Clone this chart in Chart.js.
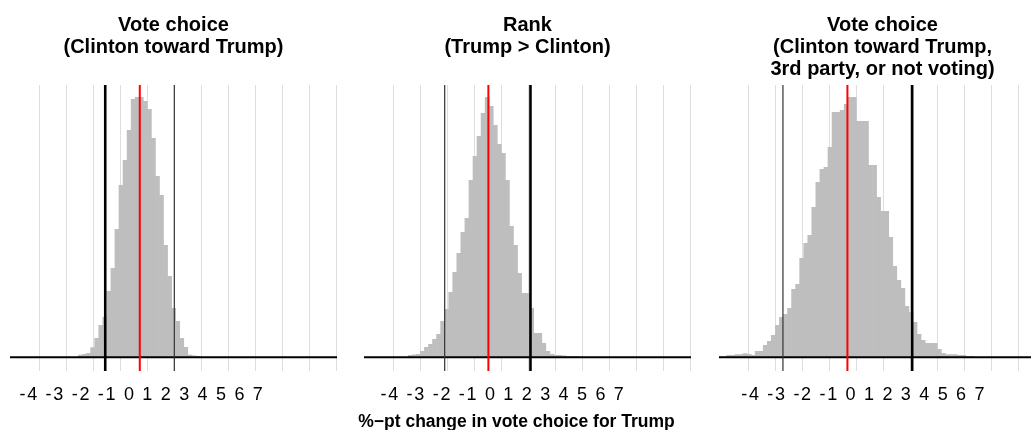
<!DOCTYPE html>
<html lang="en">

<head>
    <meta charset="UTF-8">
    <title>Simulated change in vote choice for Trump</title>

    <!-- Chart.js from CDN -->
    <script src="https://cdn.jsdelivr.net/npm/chart.js"></script>

    <style>
        html, body {
            margin: 0;
            padding: 0;
            background: #ffffff;
            overflow: hidden;
        }

        .figure {
            position: relative;
            width: 1031px;
            height: 430px;
            overflow: hidden;
        }

        /* one canvas per facet */
        .panel {
            position: absolute;
            top: 0;
        }

        /* shared x axis title under the three facets */
        .x-title {
            position: absolute;
            left: 0;
            width: 1033px;
            top: 413px;
            text-align: center;
            font: bold 17.5px "Liberation Sans", Arial, sans-serif;
            line-height: 17.5px;
            color: #000000;
            white-space: nowrap;
        }
    </style>
</head>

<body>

<div class="figure">
    <canvas id="panel1" class="panel" width="355" height="430" style="left:0px"></canvas>
    <canvas id="panel2" class="panel" width="355" height="430" style="left:354px"></canvas>
    <canvas id="panel3" class="panel" width="355" height="430" style="left:709px"></canvas>
    <div class="x-title">%&minus;pt change in vote choice for Trump</div>
</div>

<script>
    // x axis: grid positions and the (shifted) label row printed under each facet
    const xTicks = [-4, -3, -2, -1, 0, 1, 2, 3, 4, 5, 6, 7];
    const tickLabels = ['-4', '-3', '-2', '-1', '0', '1', '2', '3', '4', '5', '6', '7'];
    const xMin = -5.09;
    const xMax = 7.03;

    // histogram bins
    const binWidth = 0.15;

    // panel 1: Vote choice (Clinton toward Trump)
    const binStart1 = -2.55;
    const counts1 = [2.3, 3, 4, 9.7, 19, 32, 40, 66, 89, 128, 172, 197, 227, 258, 260,
        260, 256, 248, 219, 181, 162, 112, 81, 49, 36, 19, 10, 2.3, 1.5, 1];

    // panel 2: Rank (Trump > Clinton)
    const binStart2 = -3.45;
    const counts2 = [2, 2.5, 3, 6, 10, 13, 18, 23, 36, 48, 65, 85, 104, 125, 139, 177,
        201, 221, 244, 260, 251, 232, 213, 204, 177, 131, 112, 84, 64, 64, 49, 24, 24,
        14, 6, 3, 2, 2, 1.5, 1, 1, 1, 0.5];

    // panel 3: Vote choice (Clinton toward Trump, 3rd party, or not voting)
    const binStart3 = -5.1;
    const counts3 = [0.7, 0.7, 2, 2, 2.7, 2.7, 3.7, 3, 2, 6, 6, 12, 16, 22, 32, 40, 43,
        49, 68, 73, 99, 114, 122, 150, 175, 188, 190, 210, 245, 245, 247, 253, 260, 260,
        236, 236, 236, 192, 192, 160, 146, 146, 120, 91, 77, 69, 51, 45, 35, 23, 17, 14,
        14, 14, 8, 4, 2.7, 2.7, 2.7, 2, 2, 1, 1];

    // reference lines, one entry per panel
    const redLine = [-0.28, -0.48, -0.33];
    const blackThick = [-1.56, 1.08, 2.07];
    const blackThin = [1.0, -2.10, -2.72];

    const panelTitles = [
        ['Vote choice', '(Clinton toward Trump)', ''],
        ['Rank', '(Trump > Clinton)', ''],
        ['Vote choice', '(Clinton toward Trump,', '3rd party, or not voting)']
    ];

    // y range (counts), a little below zero so the grid runs under the axis line
    const yMin = -13.7;
    const yMax = 272.3;

    const FONT = '"Liberation Sans", Arial, sans-serif';

    // draws the row of tick numbers under a facet
    const tickTextPlugin = {
        id: 'tickText',
        afterDraw(chart, args, opts) {
            const ctx = chart.ctx;
            ctx.save();
            ctx.font = '18px ' + FONT;
            ctx.letterSpacing = '1.7px';
            ctx.fillStyle = '#000000';
            ctx.textBaseline = 'alphabetic';
            ctx.fillText(tickLabels.join(' '), chart.chartArea.left + opts.shift, 400);
            ctx.restore();
        }
    };

    function histogramPoints(start, counts) {
        return counts.map((c, i) => ({x: start + (i + 0.5) * binWidth, y: c}));
    }

    function verticalLine(v) {
        return [{x: v, y: yMin}, {x: v, y: yMax}];
    }

    function lineSet(data, color, width, order) {
        return {
            type: 'line',
            data: data,
            borderColor: color,
            borderWidth: width,
            pointRadius: 0,
            fill: false,
            order: order
        };
    }

    function makePanel(id, idx, start, counts, labelShift) {
        new Chart(document.getElementById(id), {
            type: 'bar',
            data: {
                datasets: [
                    lineSet(verticalLine(redLine[idx]), '#ff0000', 2, 0),
                    lineSet(verticalLine(blackThick[idx]), '#000000', 2.6, 1),
                    lineSet(verticalLine(blackThin[idx]), '#333333', 1.2, 1),
                    lineSet([{x: xMin, y: 0}, {x: xMax, y: 0}], '#000000', 2, 2),
                    {
                        type: 'bar',
                        data: histogramPoints(start, counts),
                        backgroundColor: '#bebebe',
                        borderWidth: 0,
                        barPercentage: 1,
                        categoryPercentage: 1,
                        order: 5
                    }
                ]
            },
            options: {
                responsive: false,
                animation: false,
                events: [],
                layout: {
                    padding: {left: 10, right: 18, top: 0, bottom: 59}
                },
                scales: {
                    x: {
                        type: 'linear',
                        min: xMin,
                        max: xMax,
                        offset: false,
                        afterBuildTicks: scale => {
                            scale.ticks = xTicks.map(v => ({value: v}));
                        },
                        grid: {
                            color: '#dedede',
                            lineWidth: 1,
                            drawTicks: false,
                            offset: false
                        },
                        border: {display: false},
                        ticks: {display: false}
                    },
                    y: {
                        display: false,
                        min: yMin,
                        max: yMax
                    }
                },
                plugins: {
                    legend: {display: false},
                    tooltip: {enabled: false},
                    title: {
                        display: true,
                        text: panelTitles[idx],
                        color: '#000000',
                        font: {family: FONT, size: 20, weight: 'bold', lineHeight: 1.1},
                        padding: {top: 14, bottom: 5}
                    },
                    tickText: {shift: labelShift}
                }
            },
            plugins: [tickTextPlugin]
        });
    }

    makePanel('panel1', 0, binStart1, counts1, 9.5);
    makePanel('panel2', 1, binStart2, counts2, 16.5);
    makePanel('panel3', 2, binStart3, counts3, 22.2);
</script>
</body>
</html>
